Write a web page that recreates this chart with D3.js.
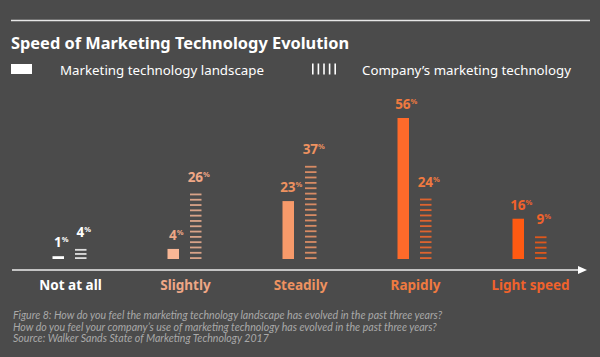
<!DOCTYPE html>
<html><head><meta charset="utf-8">
<script src="https://cdn.jsdelivr.net/npm/d3@7"></script>
<style>
html,body{margin:0;padding:0;background:#4b4b4b;}
svg{display:block;font-family:"Noto Sans",Lato,sans-serif;}
</style></head>
<body>
<svg id="chart" width="600" height="357"></svg>
<script>
const categories = ["Not at all","Slightly","Steadily","Rapidly","Light speed"];
const landscapeValues = [1,4,23,56,16];
const companyValues = [4,26,37,24,9];
const categoryColors = ["#ffffff","#f9b796","#f79a6a","#ff6a2a","#ff5a12"];
const labelColors = ["#ffffff","#efa786","#ee9260","#ef7a40","#f0622c"];
const seriesNames = ["Marketing technology landscape","Company\u2019s marketing technology"];
const footnotes = [
 "Figure 8: How do you feel the marketing technology landscape has evolved in the past three years?",
 "How do you feel your company\u2019s use of marketing technology has evolved in the past three years?",
 "Source: Walker Sands State of Marketing Technology 2017"
];

const svg = d3.select("#chart");
const W = 600, H = 357;
svg.append("rect").attr("width",W).attr("height",H).attr("fill","#4b4b4b");

function fit(sel, target){
  const w = sel.node().getComputedTextLength();
  const fs = parseFloat(sel.attr("font-size"));
  sel.attr("font-size", (fs*target/w).toFixed(2));
  return sel;
}

svg.append("line").attr("x1",11).attr("x2",590).attr("y1",20.5).attr("y2",20.5)
  .attr("stroke","#e6e6e6").attr("stroke-width",1.5);

fit(svg.append("text").attr("x",11).attr("y",48.5).attr("fill","#ffffff")
  .attr("font-size",16).attr("font-weight",700).text("Speed of Marketing Technology Evolution"), 338);

// legend
svg.append("rect").attr("x",11).attr("y",64).attr("width",21).attr("height",10).attr("fill","#ffffff");
fit(svg.append("text").attr("x",60).attr("y",74.5).attr("fill","#ffffff").attr("font-size",13.5).text(seriesNames[0]), 204);
for(let i=0;i<5;i++){
  svg.append("rect").attr("x",312+i*5.6).attr("y",63.5).attr("width",1.6).attr("height",11).attr("fill","#ffffff");
}
fit(svg.append("text").attr("x",362).attr("y",74.5).attr("fill","#ffffff").attr("font-size",13.5).text(seriesNames[1]), 209);

const x = d3.scaleBand().domain(categories).range([12,587]);
const y = d3.scaleLinear().domain([0,56]).range([259,118]);
const barW = 11.5;

const g = svg.append("g");
categories.forEach((c,i)=>{
  const cx = x(c) + x.bandwidth()/2;
  const sx = cx - 17;
  const dx = cx + 5.5;
  const v = landscapeValues[i];
  const sTop = Math.min(y(v), y(0)-2.8);
  g.append("rect").attr("x",sx).attr("y",sTop).attr("width",barW).attr("height",y(0)-sTop)
    .attr("fill",categoryColors[i]);
  const cv = companyValues[i];
  const top = y(cv);
  const h = y(0) - top;
  const n = Math.round(h/5.4) + 1;
  const step = (h - 1.8) / (n - 1);
  for(let k=0;k<n;k++){
    g.append("rect").attr("x",dx).attr("y",top + k*step).attr("width",barW).attr("height",1.8)
      .attr("fill",categoryColors[i]).attr("opacity",0.82);
  }
  const lab = (xc, yb, val)=>{
    const t = g.append("text").attr("x",xc).attr("y",yb).attr("fill",labelColors[i])
      .attr("font-size",13.5).attr("font-weight",700).attr("text-anchor","middle");
    t.append("tspan").text(val);
    t.append("tspan").attr("font-size",7.5).attr("dy",-5).text("%");
  };
  lab(sx+barW/2+3, sTop-9, v);
  lab(dx+barW/2+3, top-12, cv);
  g.append("text").attr("x",cx+1).attr("y",289.5).attr("fill",labelColors[i])
    .attr("font-size",13.5).attr("font-weight",700).attr("text-anchor","middle").text(c);
});

svg.append("line").attr("x1",12).attr("x2",580).attr("y1",270).attr("y2",270)
  .attr("stroke","#c4c4c4").attr("stroke-width",2);
svg.append("path").attr("d","M578,266 L587,270 L578,274 Z").attr("fill","#ffffff");

footnotes.forEach((t,i)=>{
  svg.append("text").attr("x",13).attr("y",319+i*11.7).attr("fill","#a9a9a9")
    .style("font-family","Lato,sans-serif")
    .attr("font-size",10.6).attr("font-style","italic").text(t);
});
</script>
</body></html>
